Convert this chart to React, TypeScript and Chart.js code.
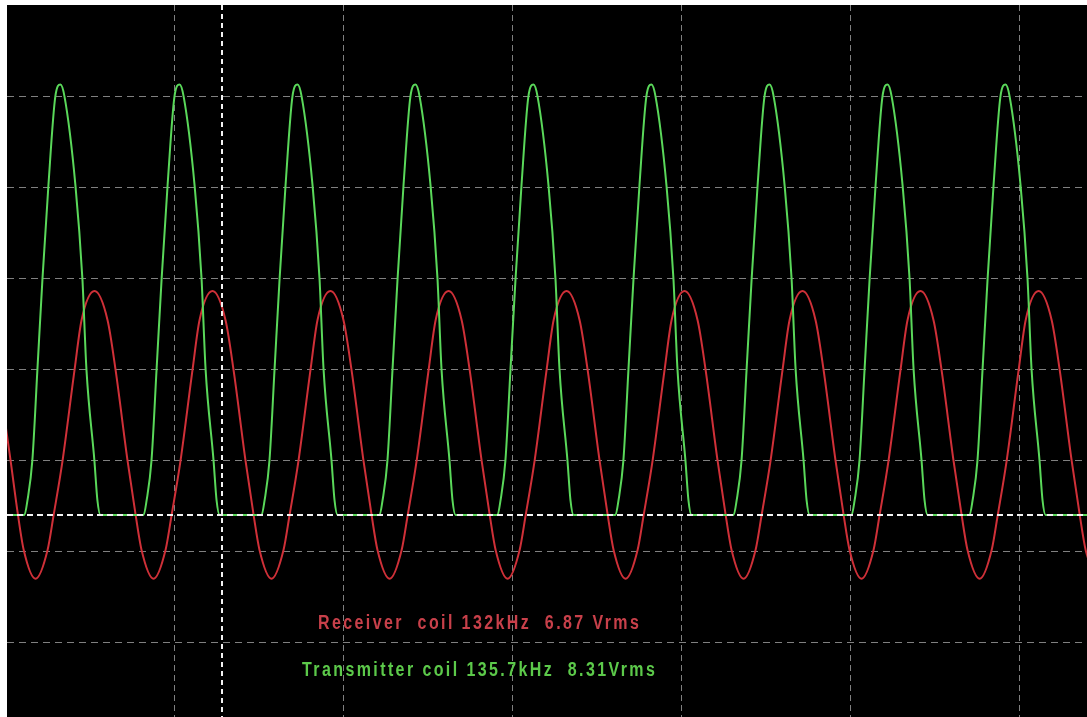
import React, { useEffect, useRef } from "react";
import { Chart, registerables } from "chart.js";

Chart.register(...registerables);

// Time base: 10 µs / division, vertical: 1 division units (0 = channel ground marker)
const xGridTicks = [10, 20, 30, 40, 50, 60];
const triggerTicks = [12.81];
const yGridTicks = [-1.396, -0.396, 0.604, 1.604, 2.604, 3.604, 4.604];
const groundTicks = [0];

// Transmitter coil (green) trace: time in µs, level in divisions
const txTime = [
  0,
  1.12, 1.3, 1.59, 1.89, 2.19, 2.54, 2.95, 3.25, 3.49, 4.14, 4.55, 4.79, 5.26, 5.44, 5.62,
  8.17, 8.35, 8.64, 8.94, 9.24, 9.59, 10.0, 10.3, 10.54, 11.19, 11.6, 11.84, 12.31, 12.49, 12.67,
  15.15, 15.33, 15.62, 15.92, 16.22, 16.57, 16.98, 17.28, 17.52, 18.17, 18.58, 18.82, 19.29, 19.47, 19.65,
  22.13, 22.31, 22.6, 22.9, 23.2, 23.55, 23.96, 24.26, 24.5, 25.15, 25.56, 25.8, 26.27, 26.45, 26.63,
  29.11, 29.29, 29.58, 29.88, 30.18, 30.53, 30.94, 31.24, 31.48, 32.13, 32.54, 32.78, 33.25, 33.43, 33.61,
  36.09, 36.27, 36.56, 36.86, 37.16, 37.51, 37.92, 38.22, 38.46, 39.11, 39.52, 39.76, 40.23, 40.41, 40.59,
  43.08, 43.26, 43.55, 43.85, 44.15, 44.5, 44.91, 45.21, 45.45, 46.1, 46.51, 46.75, 47.22, 47.4, 47.58,
  50.06, 50.24, 50.53, 50.83, 51.13, 51.48, 51.89, 52.19, 52.43, 53.08, 53.49, 53.73, 54.2, 54.38, 54.56,
  57.04, 57.22, 57.51, 57.81, 58.11, 58.46, 58.87, 59.17, 59.41, 60.06, 60.47, 60.71, 61.18, 61.36, 61.54,
  64.0,
];
const txLevel = [
  0,
  0, 0.16, 0.6, 1.6, 2.6, 3.62, 4.6, 4.73, 4.6, 3.62, 2.6, 1.6, 0.6, 0.16, 0,
  0, 0.16, 0.6, 1.6, 2.6, 3.62, 4.6, 4.73, 4.6, 3.62, 2.6, 1.6, 0.6, 0.16, 0,
  0, 0.16, 0.6, 1.6, 2.6, 3.62, 4.6, 4.73, 4.6, 3.62, 2.6, 1.6, 0.6, 0.16, 0,
  0, 0.16, 0.6, 1.6, 2.6, 3.62, 4.6, 4.73, 4.6, 3.62, 2.6, 1.6, 0.6, 0.16, 0,
  0, 0.16, 0.6, 1.6, 2.6, 3.62, 4.6, 4.73, 4.6, 3.62, 2.6, 1.6, 0.6, 0.16, 0,
  0, 0.16, 0.6, 1.6, 2.6, 3.62, 4.6, 4.73, 4.6, 3.62, 2.6, 1.6, 0.6, 0.16, 0,
  0, 0.16, 0.6, 1.6, 2.6, 3.62, 4.6, 4.73, 4.6, 3.62, 2.6, 1.6, 0.6, 0.16, 0,
  0, 0.16, 0.6, 1.6, 2.6, 3.62, 4.6, 4.73, 4.6, 3.62, 2.6, 1.6, 0.6, 0.16, 0,
  0, 0.16, 0.6, 1.6, 2.6, 3.62, 4.6, 4.73, 4.6, 3.62, 2.6, 1.6, 0.6, 0.16, 0,
  0,
];

// Receiver coil (red) trace: time in µs, level in divisions
const rxTime = [
  -1.71, -0.94, -0.47, 0.3, 0.74, 1.08,
  1.78, 2.49, 2.85, 3.38, 4.09, 4.5, 5.27, 6.04, 6.51, 7.22, 7.7, 8.05,
  8.76, 9.47, 9.83, 10.36, 11.07, 11.48, 12.25, 13.02, 13.49, 14.2, 14.68, 15.03,
  15.74, 16.45, 16.81, 17.34, 18.05, 18.46, 19.23, 20.0, 20.47, 21.18, 21.66, 22.01,
  22.73, 23.44, 23.8, 24.33, 25.04, 25.45, 26.22, 26.99, 27.46, 28.17, 28.65, 29.0,
  29.71, 30.42, 30.78, 31.31, 32.02, 32.43, 33.2, 33.97, 34.44, 35.15, 35.63, 35.98,
  36.69, 37.4, 37.76, 38.29, 39.0, 39.41, 40.18, 40.95, 41.42, 42.13, 42.61, 42.96,
  43.67, 44.38, 44.74, 45.27, 45.98, 46.39, 47.16, 47.93, 48.4, 49.11, 49.59, 49.94,
  50.65, 51.36, 51.72, 52.25, 52.96, 53.37, 54.14, 54.91, 55.38, 56.09, 56.57, 56.92,
  57.64, 58.35, 58.71, 59.24, 59.95, 60.36, 61.13, 61.9, 62.37, 63.08, 63.56, 63.91,
  64.62,
];
const rxLevel = [
  2.46, 2.14, 1.6, 0.6, 0, -0.385,
  -0.7, -0.385, 0, 0.6, 1.6, 2.14, 2.46, 2.14, 1.6, 0.6, 0, -0.385,
  -0.7, -0.385, 0, 0.6, 1.6, 2.14, 2.46, 2.14, 1.6, 0.6, 0, -0.385,
  -0.7, -0.385, 0, 0.6, 1.6, 2.14, 2.46, 2.14, 1.6, 0.6, 0, -0.385,
  -0.7, -0.385, 0, 0.6, 1.6, 2.14, 2.46, 2.14, 1.6, 0.6, 0, -0.385,
  -0.7, -0.385, 0, 0.6, 1.6, 2.14, 2.46, 2.14, 1.6, 0.6, 0, -0.385,
  -0.7, -0.385, 0, 0.6, 1.6, 2.14, 2.46, 2.14, 1.6, 0.6, 0, -0.385,
  -0.7, -0.385, 0, 0.6, 1.6, 2.14, 2.46, 2.14, 1.6, 0.6, 0, -0.385,
  -0.7, -0.385, 0, 0.6, 1.6, 2.14, 2.46, 2.14, 1.6, 0.6, 0, -0.385,
  -0.7, -0.385, 0, 0.6, 1.6, 2.14, 2.46, 2.14, 1.6, 0.6, 0, -0.385,
  -0.7,
];

const rxLabel = "Receiver  coil 132kHz  6.87 Vrms";
const txLabel = "Transmitter coil 135.7kHz  8.31Vrms";

const X_MIN = 0.09;
const X_MAX = 63.99;
const Y_MIN = -2.22;
const Y_MAX = 5.604;

export default function App() {
  const canvasRef = useRef<HTMLCanvasElement | null>(null);

  useEffect(() => {
    const canvas = canvasRef.current;
    if (!canvas) return;

    const hiddenAxis = (extra: any) => ({
      type: "linear",
      display: true,
      ticks: { display: false },
      ...extra,
    });

    const chart = new Chart(canvas, {
      type: "line",
      data: {
        datasets: [
          {
            label: "Transmitter coil",
            data: txTime.map((t, i) => ({ x: t, y: txLevel[i] })),
            borderColor: "#5ad85a",
            borderWidth: 2,
            pointRadius: 0,
            cubicInterpolationMode: "monotone",
            fill: false,
            xAxisID: "x",
            yAxisID: "y",
          },
          {
            label: "Receiver coil",
            data: rxTime.map((t, i) => ({ x: t, y: rxLevel[i] })),
            borderColor: "#cf3038",
            borderWidth: 2,
            pointRadius: 0,
            cubicInterpolationMode: "monotone",
            fill: false,
            xAxisID: "x",
            yAxisID: "y",
          },
        ],
      },
      options: {
        animation: false,
        responsive: true,
        maintainAspectRatio: false,
        layout: { padding: 0 },
        plugins: { legend: { display: false }, tooltip: { enabled: false } },
        scales: {
          x: hiddenAxis({
            position: "bottom",
            min: X_MIN,
            max: X_MAX,
            afterBuildTicks: (s: any) => {
              s.ticks = xGridTicks.map((v) => ({ value: v }));
            },
            grid: { color: "rgba(160,160,160,0.8)", lineWidth: 1, drawTicks: false },
            border: { display: false, dash: [6, 4] },
          }),
          xt: hiddenAxis({
            position: "bottom",
            min: X_MIN,
            max: X_MAX,
            afterBuildTicks: (s: any) => {
              s.ticks = triggerTicks.map((v) => ({ value: v }));
            },
            grid: { color: "#f2f2f2", lineWidth: 2, drawTicks: false, z: 1 },
            border: { display: false, dash: [5, 4] },
          }),
          y: hiddenAxis({
            position: "left",
            min: Y_MIN,
            max: Y_MAX,
            afterBuildTicks: (s: any) => {
              s.ticks = yGridTicks.map((v) => ({ value: v }));
            },
            grid: { color: "rgba(160,160,160,0.8)", lineWidth: 1, drawTicks: false },
            border: { display: false, dash: [7, 5] },
          }),
          yg: hiddenAxis({
            position: "left",
            min: Y_MIN,
            max: Y_MAX,
            afterBuildTicks: (s: any) => {
              s.ticks = groundTicks.map((v) => ({ value: v }));
            },
            grid: { color: "#f2f2f2", lineWidth: 2, drawTicks: false, z: 1 },
            border: { display: false, dash: [6, 4] },
          }),
        },
      } as any,
    });

    return () => chart.destroy();
  }, []);

  const textStyle: React.CSSProperties = {
    position: "absolute",
    fontFamily: "'Liberation Sans', Arial, sans-serif",
    fontWeight: "bold",
    fontSize: "20px",
    lineHeight: "20px",
    letterSpacing: "3px",
    whiteSpace: "pre",
    transform: "scaleX(0.8)",
    transformOrigin: "0 0",
  };

  return (
    <div
      style={{
        position: "absolute",
        left: 0,
        top: 0,
        width: 1087,
        height: 717,
        background: "#ffffff",
        overflow: "hidden",
      }}
    >
      <div
        style={{
          position: "absolute",
          left: 7,
          top: 5,
          width: 1080,
          height: 712,
          background: "#000000",
        }}
      >
        <canvas ref={canvasRef} />
      </div>
      <div style={{ ...textStyle, left: 318, top: 612, color: "#c8404a" }}>{rxLabel}</div>
      <div style={{ ...textStyle, left: 302, top: 659, color: "#5cc94a" }}>{txLabel}</div>
    </div>
  );
}
